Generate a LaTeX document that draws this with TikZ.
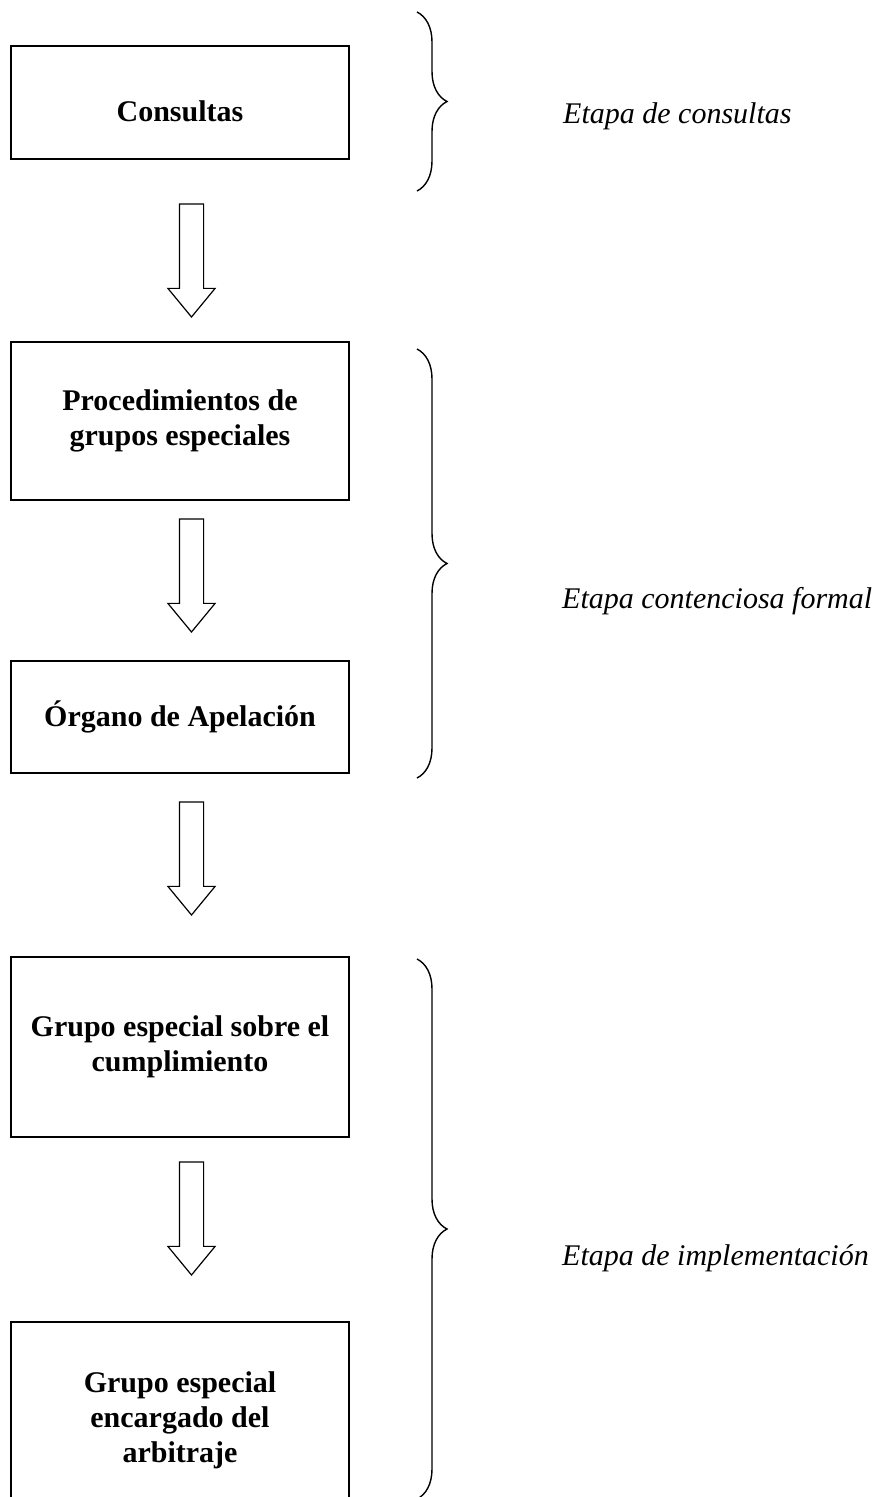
\documentclass[tikz,border=0pt]{standalone}
\usepackage{fontspec}
\setmainfont{Liberation Serif}
\usepackage{tikz}
\usetikzlibrary{shapes.arrows, decorations.pathreplacing, calc}
\tikzset{
    stagebox/.style={draw=black, line width=1.4pt, minimum width=338pt, inner sep=0pt, outer sep=0pt, align=center, font=\bfseries\fontsize{30}{35}\selectfont},
    stagelabel/.style={anchor=base west, inner sep=0pt, font=\itshape\fontsize{30}{35}\selectfont},
    stagebrace/.style={decorate, decoration={brace, amplitude=30pt}, line width=1.4pt},
    flowarrow/.style={single arrow, draw=black, line width=1.2pt, rotate=-90, anchor=tail, outer sep=0pt,
        minimum height=113pt, minimum width=46pt, inner xsep=0pt, inner ysep=11.5pt,
        single arrow head extend=11.5pt, single arrow tip angle=79}
}

\begin{document}
\begin{tikzpicture}[x=1pt, y=-1pt]
    \clip (0,0) rectangle (877,1497);
    \useasboundingbox (0,0) rectangle (877,1497);
    % stage boxes
    \node[stagebox, minimum height=113pt, text height=38pt] (consultas) at (180,102.5) {Consultas};
    \node[stagebox, minimum height=158pt] (grupos) at (180,421) {Procedimientos de\\grupos especiales};
    \node[stagebox, minimum height=112pt] (apelacion) at (180,717) {Órgano de Apelación};
    \node[stagebox, minimum height=180pt] (cumplimiento) at (180,1047) {Grupo especial sobre el\\cumplimiento};
    \node[stagebox, minimum height=196pt] (arbitraje) at (180,1420) {Grupo especial\\encargado del\\arbitraje};
    % block arrows between the boxes
    \node[flowarrow] (arr1) at ($(consultas.south)+(11.5,45)$) {};
    \node[flowarrow] (arr2) at ($(grupos.south)+(11.5,19)$) {};
    \node[flowarrow] (arr3) at ($(apelacion.south)+(11.5,29)$) {};
    \node[flowarrow] (arr4) at ($(cumplimiento.south)+(11.5,25)$) {};
    % braces and stage names
    \draw[stagebrace] (417,12) -- (417,191);
    \draw[stagebrace] (417,349) -- (417,778);
    \draw[stagebrace] (417,959) -- (417,1499);
    \node[stagelabel] (etapa1) at (563,123) {Etapa de consultas};
    \node[stagelabel] (etapa2) at (562,608) {Etapa contenciosa formal};
    \node[stagelabel] (etapa3) at (562,1265) {Etapa de implementación};
\end{tikzpicture}
\end{document}
